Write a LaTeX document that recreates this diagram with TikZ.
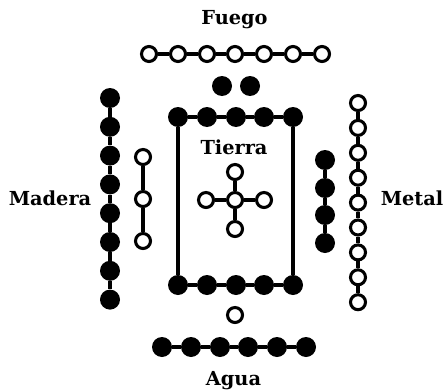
\documentclass[tikz,border=0pt]{standalone}
\usepackage{fontspec}
\setmainfont{DejaVu Serif}

\begin{document}
\begin{tikzpicture}[x=0.03cm,y=-0.03cm,
	open/.style={circle,draw,line width=2.6pt,fill=white,inner sep=0pt,minimum size=0.45cm},
	full/.style={circle,fill=black,inner sep=0pt,minimum size=0.6cm},
	link/.style={line width=2.8pt},
	elem/.style={anchor=base,inner sep=0pt,font=\fontsize{16.5}{19}\selectfont\bfseries}]
	\useasboundingbox (0,0) rectangle (445,392);

	% Fuego: 7 y 2
	\node[elem] (fuego) at (234.5,24) {Fuego};
	\foreach \x [count=\i] in {149,178,207,235,264,293,322}{
		\node[open] (f\i) at (\x,54) {};
	}
	\foreach \i [count=\j from 2] in {1,...,6}{
		\draw[link] (f\i) -- (f\j);
	}
	\node[full] (fa) at (222,86) {};
	\node[full] (fb) at (250,86) {};

	% Tierra: 5 y 10
	\foreach \x [count=\i] in {178,207,236,264,293}{
		\node[full] (tt\i) at (\x,117) {};
		\node[full] (tb\i) at (\x,285) {};
	}
	\foreach \i [count=\j from 2] in {1,...,4}{
		\draw[link] (tt\i) -- (tt\j);
		\draw[link] (tb\i) -- (tb\j);
	}
	\draw[link] (tt1) -- (tb1);
	\draw[link] (tt5) -- (tb5);
	\node[elem] (tierra) at (234,154) {Tierra};
	\node[open] (c) at (235,200) {};
	\node[open] (cn) at (235,172) {};
	\node[open] (cs) at (235,229) {};
	\node[open] (cw) at (206,200) {};
	\node[open] (ce) at (264,200) {};
	\foreach \n in {cn,cs,cw,ce}{
		\draw[link] (c) -- (\n);
	}

	% Madera: 3 y 8
	\node[elem] (madera) at (50,205) {Madera};
	\foreach \i in {0,...,7}{
		\node[full] (m\i) at (110,{98+28.8*\i}) {};
	}
	\foreach \i [count=\j] in {0,...,6}{
		\draw[link] (m\i) -- (m\j);
	}
	\node[open] (ma) at (143,157) {};
	\node[open] (mb) at (143,199) {};
	\node[open] (mc) at (143,241) {};
	\draw[link] (ma) -- (mb) -- (mc);

	% Metal: 4 y 9
	\node[elem] (metal) at (412,205) {Metal};
	\foreach \y [count=\i] in {160,188,215,243}{
		\node[full] (k\i) at (325,\y) {};
	}
	\draw[link] (k1) -- (k2) -- (k3) -- (k4);
	\foreach \i in {0,...,8}{
		\node[open] (n\i) at (358,{103+24.9*\i}) {};
	}
	\foreach \i [count=\j] in {0,...,7}{
		\draw[link] (n\i) -- (n\j);
	}

	% Agua: 1 y 6
	\node[open] (a0) at (235,315) {};
	\foreach \x [count=\i] in {162,191,220,248,277,306}{
		\node[full] (a\i) at (\x,347) {};
	}
	\foreach \i [count=\j from 2] in {1,...,5}{
		\draw[link] (a\i) -- (a\j);
	}
	\node[elem] (agua) at (233.5,385) {Agua};
\end{tikzpicture}
\end{document}
